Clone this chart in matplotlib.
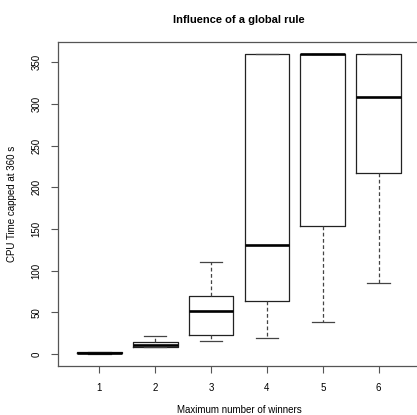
import matplotlib
matplotlib.use("Agg")
import matplotlib.pyplot as plt

plt.rcParams['font.family'] = ['Liberation Sans', 'DejaVu Sans']

groups = [1, 2, 3, 4, 5, 6]
whislo = [0.3, 8.0, 15.6, 19.5, 39.0, 85.7]
q1 = [0.8, 8.7, 22.8, 63.8, 153.7, 217.2]
med = [1.5, 11.1, 52.2, 131.3, 360.0, 308.5]
q3 = [2.2, 14.4, 70.2, 360.0, 360.0, 360.0]
whishi = [2.8, 21.9, 110.5, 360.0, 360.0, 360.0]

stats = []
for i in range(len(groups)):
    stats.append(dict(whislo=whislo[i], q1=q1[i], med=med[i], q3=q3[i],
                      whishi=whishi[i], fliers=[], label=str(groups[i])))

fig = plt.figure(figsize=(4.17, 4.15), dpi=100)
ax = fig.add_axes([58 / 417, 1 - 366 / 415, 362 / 417, 324 / 415])

ax.bxp(stats, positions=groups, widths=0.8, showfliers=False,
       boxprops=dict(color='#222222', linewidth=0.9),
       medianprops=dict(color='black', linewidth=1.9),
       whiskerprops=dict(color='#444444', linewidth=0.9, linestyle=(0, (3, 2))),
       capprops=dict(color='#444444', linewidth=0.9),
       capwidths=0.4)

ax.set_xlim(0.26, 6.74)
ax.set_ylim(-14.4, 374.4)
ax.set_yticks([0, 50, 100, 150, 200, 250, 300, 350])
ax.set_xticks(groups)
ax.set_xticklabels([str(g) for g in groups])
for lab in ax.get_yticklabels():
    lab.set_rotation(90)
    lab.set_va('center')

for s in ax.spines.values():
    s.set_color('#555555')
    s.set_linewidth(0.9)
ax.tick_params(direction='out', length=5, width=0.8, color='#555555',
               labelsize=7, pad=7)

ax.set_title('Influence of a global rule', fontsize=8, fontweight='bold', pad=14)
ax.set_xlabel('Maximum number of winners', fontsize=7)
ax.xaxis.set_label_coords(0.5, -0.12)
ax.set_ylabel('CPU Time capped at 360 s', fontsize=7, labelpad=10)

fig.savefig('out.png', dpi=100)
